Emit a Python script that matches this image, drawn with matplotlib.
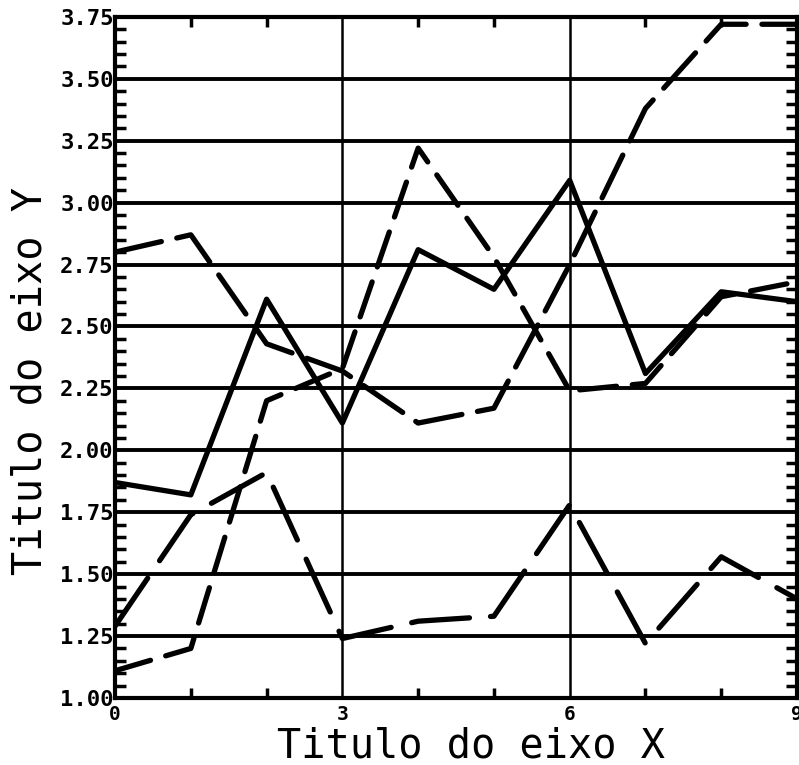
import matplotlib
matplotlib.use('Agg')
import matplotlib.pyplot as plt
from matplotlib.ticker import MultipleLocator

# dados
x = [0, 1, 2, 3, 4, 5, 6, 7, 8, 9]
serie_a = [1.87, 1.82, 2.61, 2.11, 2.81, 2.65, 3.09, 2.31, 2.64, 2.60]
serie_b = [2.80, 2.87, 2.43, 2.32, 2.11, 2.17, 2.75, 3.38, 3.72, 3.72]
serie_c = [1.29, 1.74, 1.91, 1.24, 1.31, 1.33, 1.78, 1.22, 1.57, 1.40]
serie_d = [1.11, 1.20, 2.20, 2.33, 3.22, 2.78, 2.24, 2.27, 2.62, 2.68]

xticks = [0, 3, 6, 9]
yticks = [1.00, 1.25, 1.50, 1.75, 2.00, 2.25, 2.50, 2.75, 3.00, 3.25, 3.50, 3.75]

fig = plt.figure(figsize=(7.99, 7.65), dpi=100)
ax = fig.add_axes([0.144, 0.0876, 0.8535, 0.8904])

lw = 3.8
ax.plot(x, serie_a, color='black', lw=lw, solid_joinstyle='round', solid_capstyle='round', zorder=3)
ax.plot(x, serie_b, color='black', lw=lw, dashes=(9, 3), dash_capstyle='round', zorder=3)
ax.plot(x, serie_c, color='black', lw=lw, dashes=(11, 4), dash_capstyle='round', zorder=3)
ax.plot(x, serie_d, color='black', lw=lw, dashes=(7, 3), dash_capstyle='round', zorder=3)

ax.set_xlim(0, 9)
ax.set_ylim(1.0, 3.75)
ax.set_xticks(xticks)
ax.set_yticks(yticks)
ax.set_yticklabels(['%.2f' % v for v in yticks])
ax.xaxis.set_minor_locator(MultipleLocator(1))
ax.yaxis.set_minor_locator(MultipleLocator(0.05))

# grade
for v in yticks[1:-1]:
    ax.axhline(v, color='black', lw=2.8, zorder=1)
for v in xticks[1:-1]:
    ax.axvline(v, color='black', lw=1.8, zorder=1)

for s in ax.spines.values():
    s.set_linewidth(3)

ax.tick_params(axis='both', which='major', direction='in', length=0, width=2.5)
ax.tick_params(axis='x', which='major', pad=5, labelsize=14)
ax.tick_params(axis='y', which='major', pad=1, labelsize=16)
ax.tick_params(axis='x', which='minor', direction='in', length=7, width=2.5,
               top=True, bottom=True)
ax.tick_params(axis='y', which='minor', direction='in', length=8, width=2.5,
               left=True, right=True)

for lab in ax.get_xticklabels() + ax.get_yticklabels():
    lab.set_family('DejaVu Sans Mono')
    lab.set_fontweight('bold')

ax.set_xlabel('Titulo do eixo X', family='DejaVu Sans Mono', fontsize=29)
ax.set_ylabel('Titulo do eixo Y', family='DejaVu Sans Mono', fontsize=29)
ax.xaxis.label.set_va('center')
ax.yaxis.label.set_va('center')
ax.xaxis.set_label_coords(0.522, -0.071)
ax.yaxis.set_label_coords(-0.124, 0.465)

fig.savefig('out.png', dpi=100)
